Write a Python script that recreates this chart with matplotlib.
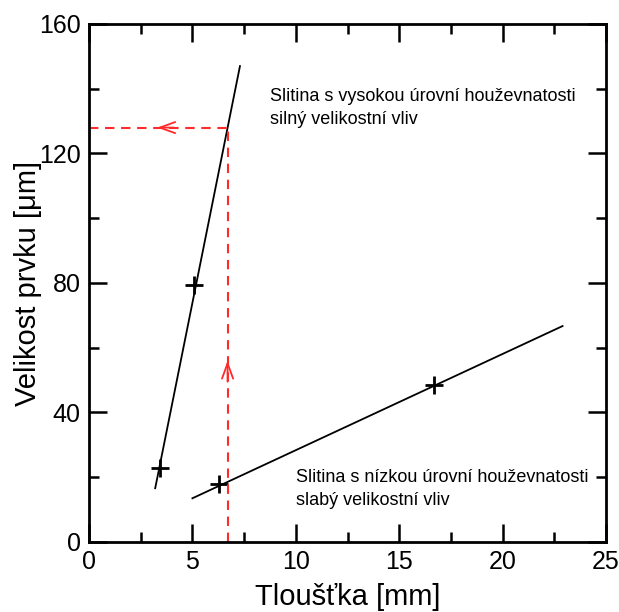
import matplotlib
matplotlib.use("Agg")
import matplotlib.pyplot as plt
from matplotlib.ticker import MultipleLocator

plt.rcParams['font.family'] = ['Liberation Sans', 'DejaVu Sans']

# Measured points (thickness [mm], flaw size [um])
high_x = [3.44, 5.07]
high_y = [22.9, 79.4]
low_x = [6.3, 16.7]
low_y = [18.0, 48.6]

# Trend lines for both alloys
high_fit_x = [3.2, 7.3]
high_fit_y = [16.6, 147.0]
low_fit_x = [5.0, 22.9]
low_fit_y = [13.5, 66.7]

# Reading guide: chosen thickness and the resulting flaw size
guide_x = 6.7
guide_y = 128.0

xticks = [0, 5, 10, 15, 20, 25]
yticks = [0, 40, 80, 120, 160]

label_high = "Slitina s vysokou úrovní houževnatosti\nsilný velikostní vliv"
label_low = "Slitina s nízkou úrovní houževnatosti\nslabý velikostní vliv"

fig = plt.figure(figsize=(6.19, 6.12), dpi=100)
ax = fig.add_axes([0.1438, 0.1144, 0.8352, 0.8464])

ax.plot(high_fit_x, high_fit_y, color='black', lw=1.3)
ax.plot(low_fit_x, low_fit_y, color='black', lw=1.3)
ax.plot(high_x, high_y, linestyle='none', marker='+', ms=13, mew=2, color='black')
ax.plot(low_x, low_y, linestyle='none', marker='+', ms=13, mew=2, color='black')

red = '#ff2a2a'
dash = (0, (4.5, 3.2))
ax.plot([guide_x, guide_x], [0, guide_y], color=red, lw=1.5, linestyle=dash)
ax.plot([0, guide_x], [guide_y, guide_y], color=red, lw=1.5, linestyle=dash)
head = '->,head_length=1.1,head_width=0.4'
ax.annotate('', xy=(3.3, guide_y), xytext=(4.1, guide_y),
            arrowprops=dict(arrowstyle=head, color=red, lw=1.3, shrinkA=0, shrinkB=0))
ax.annotate('', xy=(guide_x, 56.0), xytext=(guide_x, 49.5),
            arrowprops=dict(arrowstyle=head, color=red, lw=1.3, shrinkA=0, shrinkB=0))

ax.text(8.75, 134, label_high, fontsize=13, va='center', ha='left', linespacing=1.45)
ax.text(10.0, 16.3, label_low, fontsize=13, va='center', ha='left', linespacing=1.45)

ax.set_xlim(0, 25)
ax.set_ylim(0, 160)
ax.set_xticks(xticks)
ax.set_yticks(yticks)
ax.xaxis.set_minor_locator(MultipleLocator(2.5))
ax.yaxis.set_minor_locator(MultipleLocator(20))
ax.tick_params(which='both', direction='in', top=True, right=True, width=1.8)
ax.tick_params(which='major', length=13, labelsize=18, pad=6)
ax.tick_params(which='minor', length=7)
for s in ax.spines.values():
    s.set_linewidth(2)

ax.set_xlabel('Tloušťka [mm]', fontsize=21, labelpad=6)
ax.set_ylabel('Velikost prvku [μm]', fontsize=21, labelpad=-2)

fig.savefig('out.png', dpi=100)
